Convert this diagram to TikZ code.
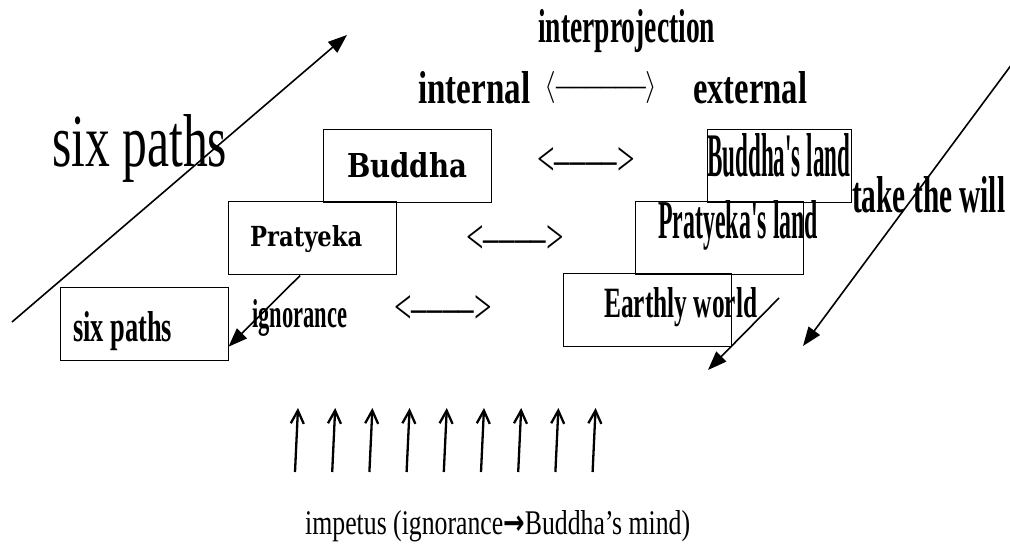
\documentclass[tikz,border=0pt]{standalone}
\usepackage{graphicx}
\usepackage{fontspec}
\setmainfont{Liberation Serif}
\newfontfamily\narrowfont{Liberation Serif}
\newfontfamily\roundfont{DejaVu Serif}
\newfontfamily\signfont{DejaVu Sans}
\usetikzlibrary{arrows.meta, calc}

% squeeze a text to a given width and height (in pt)
\newcommand{\squeezetext}[3]{\resizebox{#1pt}{#2pt}{#3}}

\tikzset{
  realm/.style={draw, line width=1pt, minimum width=168pt, minimum height=73pt, inner sep=0pt},
  narrow/.style={font=\narrowfont, inner sep=0pt, anchor=base west},
  narrowbold/.style={font=\narrowfont\bfseries, inner sep=0pt, anchor=base west},
  exchange/.style={font=\narrowfont, inner sep=0pt},
  flow/.style={line width=1.6pt, -{Triangle[length=19pt,width=14pt]}},
  push/.style={line width=2.3pt, -{Straight Barb[length=13pt,width=13pt]}},
}

\begin{document}
\begin{tikzpicture}[x=1pt, y=-1pt]
  \useasboundingbox (0,0) rectangle (1010,545);

  % internal side
  \node[realm] (buddhabox) at (407,166) {};
  \node[realm] (pratyekabox) at (312,238.5) {};
  \node[realm] (sixbox) at (144,324.5) {};
  \node[font=\roundfont\bfseries, inner sep=0pt, anchor=base west] (buddha) at (347,178) {\squeezetext{120}{25}{Buddha}};
  \node[font=\roundfont\bfseries, inner sep=0pt, anchor=base west] (pratyeka) at (250,247) {\squeezetext{112}{21}{Pratyeka}};
  \node[narrowbold] (six) at (73,342) {\squeezetext{99}{30}{six paths}};

  % external side
  \node[realm, minimum width=144pt] (buddhalandbox) at (779,166) {};
  \node[realm] (pratyekalandbox) at (719,238) {};
  \node[realm] (earthbox) at (647,310.5) {};
  \node[narrowbold] (buddhaland) at (707,177) {\squeezetext{143}{43}{Buddha\textquotesingle s land}};
  \node[narrowbold] (pratyekaland) at (658,239) {\squeezetext{160}{38}{Pratyeka\textquotesingle s land}};
  \node[narrowbold] (earth) at (604,318) {\squeezetext{153}{30}{Earthly world}};

  % headings
  \node[narrowbold] (interproj) at (538,43) {\squeezetext{177}{33}{interprojection}};
  \node[narrowbold] (internal) at (418,104) {\squeezetext{112}{32}{internal}};
  \node[narrowbold] (external) at (693,104) {\squeezetext{114}{32}{external}};
  \node[inner sep=0pt] (inout) at (601,88) {\resizebox*{113pt}{32pt}{$\langle$––––––$\rangle$}};

  \node[exchange] (swapa) at (586,162) {\resizebox*{97pt}{28pt}{<––––>}};
  \node[exchange] (swapb) at (515,240) {\resizebox*{97pt}{28pt}{<––––>}};
  \node[exchange] (swapc) at (443,310) {\resizebox*{97pt}{28pt}{<––––>}};

  \node[narrow] (bigsix) at (52,167) {\squeezetext{175}{52}{six paths}};
  \node[narrowbold] (will) at (852,213) {\squeezetext{153}{36}{take the will}};
  \node[narrowbold] (ignorance) at (252,328) {\squeezetext{95}{28}{ignorance}};

  % long arrows
  \coordinate (risefrom) at (12,322);
  \coordinate (riseto) at (347,35);
  \draw[flow] (risefrom) -- (riseto);
  \coordinate (willfrom) at (1012,64);
  \coordinate (willto) at (803,346);
  \draw[flow] (willfrom) -- (willto);
  \coordinate (earthfrom) at (779,298);
  \coordinate (earthto) at (708,370);
  \draw[flow] (earthfrom) -- (earthto);
  \draw[flow] ($(pratyekabox.south west)!0.43!(pratyekabox.south east)$) -- ($(sixbox.north east)!0.8!(sixbox.south east)$);

  % impetus arrows
  \foreach \i in {0,...,8} {
    \coordinate (foot\i) at (295+37.2*\i,472);
    \coordinate (tip\i) at (298+37.2*\i,408);
    \draw[push] (foot\i) -- (tip\i);
  }

  \node[inner sep=0pt, anchor=base west] (impetus) at (305,534)
    {\resizebox{385pt}{24pt}{\fontsize{26}{30}\selectfont impetus (ignorance{\signfont\bfseries →}Buddha’s mind)}};
\end{tikzpicture}
\end{document}
